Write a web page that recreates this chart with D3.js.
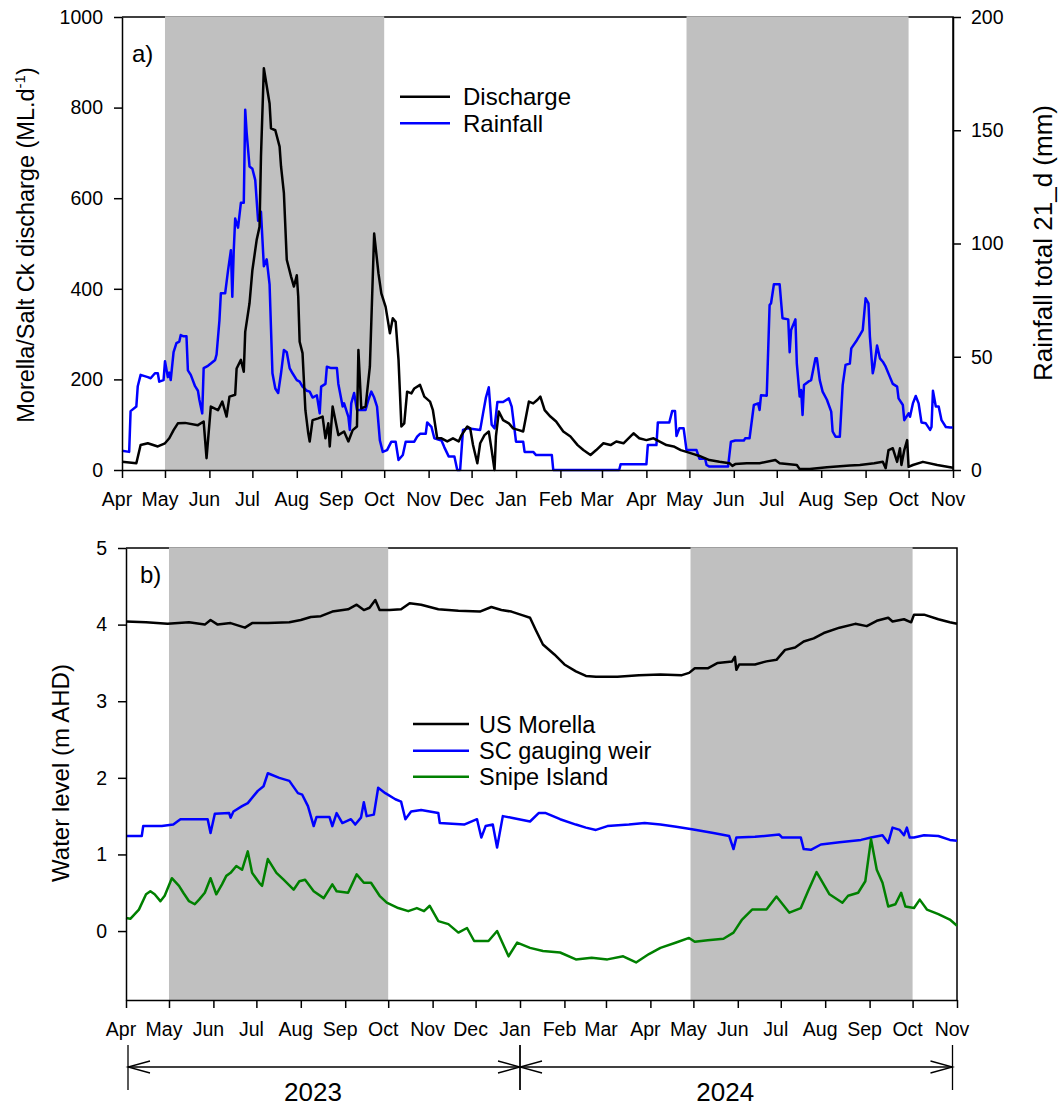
<!DOCTYPE html>
<html>
<head>
<meta charset="utf-8">
<script src="https://cdn.jsdelivr.net/npm/d3@7"></script>
<style>
  body { margin: 0; background: #fff; }
  svg text { font-family: "Liberation Sans", Arial, sans-serif; fill: #000; }
</style>
</head>
<body>
<svg id="chart"></svg>
<script>
// time span of both panels, days are counted from startDate
const startDate = '2023-04-01';
const endDate = '2024-11-01';

// shaded periods
const shadedPeriods = [['2023-05-01', '2023-10-01'], ['2024-04-29', '2024-10-01']];

// panel a) [day, ML/d]
const discharge = [[0,18],[10,15],[13,55],[18,59],[25,52],[30,59],[33,70],[36,88],[39,103],[44,104],[53,99],[57,107],[59,26],[62,140],[67,132],[70,151],[73,118],[75,162],[79,166],[80,224],[83,243],[85,217],[86,305],[89,368],[91,441],[94,508],[96,537],[97,692],[99,887],[103,809],[104,754],[107,750],[110,714],[111,670],[113,611],[115,464],[118,427],[120,405],[122,430],[123,383],[124,283],[126,258],[128,132],[130,81],[131,63],[133,110],[137,114],[140,118],[142,70],[144,103],[145,52],[147,140],[151,77],[155,85],[158,63],[161,88],[164,96],[165,265],[167,136],[170,140],[173,228],[176,522],[179,434],[181,390],[184,360],[187,302],[189,335],[191,327],[193,243],[195,96],[197,103],[199,173],[202,169],[204,180],[208,188],[211,162],[215,151],[217,132],[220,70],[223,70],[227,63],[231,70],[235,63],[237,77],[241,96],[243,92],[245,55],[248,15],[250,59],[253,77],[256,85],[258,44],[260,0],[261,74],[263,129],[266,110],[270,103],[273,92],[277,88],[280,85],[284,151],[287,147],[290,155],[292,162],[295,132],[299,118],[303,107],[308,85],[313,74],[318,55],[322,44],[327,33],[331,44],[336,59],[341,55],[345,63],[350,59],[357,81],[361,70],[366,66],[371,70],[375,63],[380,55],[385,52],[390,44],[394,40],[399,35],[403,31],[410,22],[417,18],[424,15],[426,9],[428,13],[436,15],[445,15],[456,22],[459,15],[471,11],[473,2],[480,2],[492,6],[508,10],[515,11],[525,15],[531,18],[533,4],[535,44],[538,48],[541,18],[543,48],[544,11],[546,44],[548,66],[549,7],[552,11],[559,18],[569,11],[578,6],[580,5]];

// panel a) [day, mm over 21 days]
const rainfall = [[0,8.5],[5,8],[6,26],[10,28],[11,37],[13,42],[18,41],[20,40.5],[23,42.7],[25,42.7],[26,39],[29,39.7],[30,48],[32,41],[33,43],[34,39.7],[36,52],[38,56],[40,56.7],[41,59.6],[43,59],[45,59],[46,44],[48,42],[51,37],[53,35],[54,31],[56,25],[57,45],[60,46],[62,47],[65,48.6],[66,51],[68,66],[69,78],[72,78],[74,88],[76,97],[77,76.5],[78,97],[79,111],[81,107],[83,118],[85,118],[86,159],[87,149],[89,134],[91,133],[93,128],[95,110],[97,114],[99,90],[101,93],[103,82],[105,42.7],[107,36],[109,34],[111,42.7],[113,53],[115,52],[117,45],[119,42.7],[122,39.7],[124,39],[126,36.8],[129,35],[131,34.6],[133,32],[136,33],[138,25],[139,36.8],[142,38],[143,45.6],[146,45],[150,45],[151,38],[154,28],[155,29.4],[158,23.5],[159,17.7],[160,29.4],[162,34],[164,26.5],[170,26.5],[172,31],[174,34.6],[176,32],[178,28],[180,13],[182,8],[185,8.8],[188,12.5],[191,12.5],[193,4.4],[196,6.6],[198,12.5],[204,12.5],[206,14.7],[208,16],[212,16],[213,21],[216,19],[218,14],[223,13],[225,10],[228,6],[232,6],[234,0],[236,0],[238,17.7],[241,18.4],[250,17.7],[252,25],[254,32],[256,36.5],[258,20],[260,18.4],[262,30],[266,30],[270,31.6],[272,28],[274,17.7],[275,12.5],[280,12.5],[281,8],[287,8],[289,6.6],[300,6.6],[301,0],[347,0],[348,2.5],[366,2.5],[367,11],[373,11],[374,21],[382,21],[384,26],[386,26],[387,15],[389,18.4],[392,18.4],[394,8.8],[401,8.8],[403,5],[407,5],[408,2.2],[410,1.5],[423,1.5],[425,12.5],[428,13],[434,13],[435,14],[438,14],[441,28.7],[444,29.4],[445,26.5],[446,33],[450,32.8],[452,72.8],[453,73.6],[455,82],[459,82],[461,67],[465,66.5],[466,52],[467,61.8],[470,66.5],[471,47],[473,32.4],[474,35.3],[475,24.3],[476,37.5],[479,39],[481,39.7],[484,49.3],[485,49.3],[487,39.7],[489,34.6],[492,31],[495,25.8],[496,17],[498,14.7],[501,14.7],[503,37.5],[505,46.4],[508,47],[509,53.7],[513,57.4],[515,59.6],[517,61.8],[519,75.8],[521,73.6],[522,58.9],[524,42.7],[525,45.6],[527,55],[529,49.3],[531,47.8],[533,45.6],[536,41],[538,38],[541,36.8],[542,31.6],[545,28.7],[546,22],[549,25],[550,23.5],[552,29.4],[554,32.7],[556,29.4],[558,21],[561,20.6],[564,17.7],[565,19],[566,35],[568,28],[570,28],[572,22],[575,19],[578,18.8],[580,18.8]];

// panel b) [day, m AHD]
const usMorella = [[0,4.04],[14,4.03],[29,4.01],[44,4.03],[55,4.0],[59,4.06],[64,4.0],[73,4.02],[83,3.96],[88,4.02],[99,4.02],[114,4.03],[122,4.06],[129,4.1],[136,4.11],[144,4.17],[155,4.2],[161,4.26],[166,4.19],[170,4.22],[174,4.32],[177,4.19],[184,4.19],[192,4.2],[198,4.28],[206,4.26],[218,4.2],[232,4.18],[247,4.17],[255,4.23],[262,4.19],[269,4.17],[277,4.12],[282,4.09],[286,3.93],[291,3.74],[299,3.61],[306,3.48],[314,3.39],[321,3.33],[328,3.32],[343,3.32],[358,3.34],[373,3.35],[388,3.34],[393,3.37],[397,3.43],[406,3.43],[413,3.5],[423,3.52],[425,3.58],[426,3.41],[428,3.48],[439,3.48],[447,3.52],[454,3.54],[460,3.67],[467,3.7],[473,3.78],[480,3.82],[487,3.89],[498,3.96],[509,4.01],[517,3.98],[524,4.05],[532,4.09],[535,4.04],[543,4.07],[548,4.03],[550,4.13],[557,4.13],[567,4.07],[575,4.03],[580,4.01]];

const scWeir = [[0,1.24],[11,1.24],[12,1.37],[25,1.37],[33,1.39],[38,1.46],[57,1.46],[59,1.28],[62,1.53],[72,1.54],[73,1.48],[75,1.56],[81,1.63],[85,1.67],[92,1.83],[96,1.89],[99,2.06],[107,2.0],[114,1.96],[120,1.8],[123,1.78],[127,1.63],[131,1.37],[133,1.49],[142,1.49],[144,1.37],[147,1.54],[151,1.41],[157,1.46],[160,1.39],[164,1.48],[166,1.68],[168,1.5],[173,1.52],[176,1.87],[181,1.8],[188,1.72],[192,1.69],[195,1.46],[199,1.56],[206,1.58],[218,1.54],[219,1.41],[236,1.39],[245,1.46],[248,1.22],[251,1.37],[256,1.39],[259,1.09],[263,1.5],[269,1.48],[282,1.43],[288,1.54],[293,1.54],[303,1.46],[314,1.39],[321,1.35],[328,1.32],[336,1.37],[351,1.39],[362,1.41],[373,1.39],[384,1.36],[395,1.33],[410,1.28],[421,1.24],[424,1.07],[426,1.22],[439,1.23],[456,1.26],[458,1.22],[471,1.22],[473,1.07],[478,1.06],[485,1.13],[498,1.16],[513,1.19],[520,1.22],[528,1.25],[532,1.15],[535,1.35],[540,1.32],[543,1.25],[545,1.35],[547,1.22],[550,1.22],[557,1.25],[567,1.24],[575,1.19],[580,1.18]];

const snipeIsland = [[0,0.17],[3,0.16],[9,0.28],[14,0.48],[17,0.52],[20,0.48],[24,0.39],[27,0.46],[32,0.69],[37,0.59],[40,0.5],[44,0.39],[48,0.35],[51,0.41],[55,0.5],[59,0.69],[63,0.48],[67,0.61],[70,0.72],[73,0.76],[77,0.85],[81,0.8],[85,1.04],[88,0.76],[93,0.63],[95,0.59],[99,0.94],[105,0.76],[110,0.67],[117,0.54],[121,0.65],[125,0.67],[131,0.52],[138,0.43],[144,0.61],[147,0.52],[155,0.5],[161,0.74],[166,0.63],[171,0.63],[177,0.46],[182,0.37],[190,0.3],[197,0.26],[203,0.3],[208,0.26],[212,0.33],[218,0.13],[225,0.09],[232,-0.02],[238,0.04],[243,-0.13],[253,-0.13],[259,0.0],[267,-0.33],[273,-0.15],[282,-0.22],[291,-0.26],[303,-0.28],[314,-0.37],[325,-0.35],[336,-0.37],[347,-0.33],[356,-0.41],[365,-0.3],[373,-0.22],[384,-0.15],[393,-0.09],[397,-0.14],[406,-0.12],[417,-0.1],[424,-0.02],[430,0.15],[437,0.28],[447,0.28],[454,0.45],[463,0.24],[471,0.3],[476,0.52],[482,0.77],[491,0.48],[500,0.37],[504,0.46],[511,0.5],[516,0.65],[520,1.2],[524,0.8],[528,0.63],[532,0.32],[537,0.35],[541,0.5],[544,0.32],[550,0.3],[554,0.41],[559,0.28],[567,0.22],[575,0.15],[580,0.07]];

const yearSpans = [['2023', '2023-04-01', '2024-01-01'], ['2024', '2024-01-01', '2024-11-01']];

const parse = d3.utcParse('%Y-%m-%d');
const t0 = parse(startDate);
const t1 = parse(endDate);
const toDate = d => d3.utcDay.offset(t0, d);
const monthTicks = d3.utcMonth.range(t0, d3.utcDay.offset(t1, 1));

const svg = d3.select('#chart').attr('width', 1060).attr('height', 1107);

// ---------- panel a ----------
const dimA = { left: 122, right: 953, top: 17, bottom: 470 };
const xA = d3.scaleUtc().domain([t0, t1]).range([dimA.left, dimA.right]);
const yQ = d3.scaleLinear().domain([0, 1000]).range([dimA.bottom, dimA.top]);
const yR = d3.scaleLinear().domain([0, 200]).range([dimA.bottom, dimA.top]);

// ---------- panel b ----------
const dimB = { left: 126, right: 957, top: 548, bottom: 1000 };
const xB = d3.scaleUtc().domain([t0, t1]).range([dimB.left, dimB.right]);
const yW = d3.scaleLinear().domain([-0.9, 5]).range([dimB.bottom, dimB.top]);

function frame(dim) {
  svg.append('path')
    .attr('d', `M${dim.left},${dim.top}H${dim.right}V${dim.bottom}`)
    .attr('fill', 'none').attr('stroke', '#000').attr('stroke-width', 1.5);
}

function shade(x, dim) {
  shadedPeriods.forEach(([a, b]) => {
    svg.append('rect')
      .attr('x', x(parse(a)))
      .attr('y', dim.top - 0.75)
      .attr('width', x(parse(b)) - x(parse(a)))
      .attr('height', dim.bottom - dim.top + 0.75)
      .attr('fill', '#c0c0c0');
  });
}

function series(data, x, y, color) {
  const line = d3.line().x(d => x(toDate(d[0]))).y(d => y(d[1]));
  svg.append('path')
    .datum(data)
    .attr('d', line)
    .attr('fill', 'none')
    .attr('stroke', color)
    .attr('stroke-width', 2.5)
    .attr('stroke-linejoin', 'round');
}

function styleAxis(g, fontSize) {
  g.select('.domain').attr('stroke-width', 1.5);
  g.selectAll('.tick line').attr('stroke-width', 1.5);
  g.selectAll('text').attr('font-size', fontSize).attr('font-family', null);
}

function monthAxis(x, dim) {
  const g = svg.append('g')
    .attr('transform', `translate(0,${dim.bottom})`)
    .call(d3.axisBottom(x).tickValues(monthTicks).tickFormat(d3.utcFormat('%b'))
      .tickSize(8).tickSizeOuter(0).tickPadding(14));
  styleAxis(g, 19.5);
  g.selectAll('text').attr('x', -5.5);
  return g;
}

const intFormat = d3.format('d');

// panel a drawing
frame(dimA);
shade(xA, dimA);
series(rainfall, xA, yR, '#0000ff');
series(discharge, xA, yQ, '#000000');

monthAxis(xA, dimA);
styleAxis(svg.append('g')
  .attr('transform', `translate(${dimA.left},0)`)
  .call(d3.axisLeft(yQ).tickValues([0, 200, 400, 600, 800, 1000]).tickFormat(intFormat)
    .tickSize(8).tickSizeOuter(0).tickPadding(11)), 19.5);
styleAxis(svg.append('g')
  .attr('transform', `translate(${dimA.right},0)`)
  .call(d3.axisRight(yR).tickValues([0, 50, 100, 150, 200]).tickFormat(intFormat)
    .tickSize(8).tickSizeOuter(0).tickPadding(10)), 19.5);

svg.append('text').attr('x', 132).attr('y', 62).attr('font-size', 24).text('a)');

const titleA = svg.append('text')
  .attr('transform', 'translate(34,245) rotate(-90)')
  .attr('text-anchor', 'middle')
  .attr('font-size', 23.5);
titleA.append('tspan').text('Morella/Salt Ck discharge (ML.d');
titleA.append('tspan').attr('font-size', 15).attr('dy', -9).text('-1');
titleA.append('tspan').attr('dy', 9).text(')');

svg.append('text')
  .attr('transform', 'translate(1052,243) rotate(-90)')
  .attr('text-anchor', 'middle')
  .attr('font-size', 26)
  .text('Rainfall total 21_d (mm)');

const legendA = [['Discharge', '#000000', 96.7], ['Rainfall', '#0000ff', 123.3]];
legendA.forEach(([name, color, y]) => {
  svg.append('line').attr('x1', 400).attr('x2', 450).attr('y1', y).attr('y2', y)
    .attr('stroke', color).attr('stroke-width', 2.5);
  svg.append('text').attr('x', 463).attr('y', y + 8.5).attr('font-size', 24).text(name);
});

// panel b drawing
frame(dimB);
shade(xB, dimB);
series(usMorella, xB, yW, '#000000');
series(scWeir, xB, yW, '#0000ff');
series(snipeIsland, xB, yW, '#008000');

monthAxis(xB, dimB);
styleAxis(svg.append('g')
  .attr('transform', `translate(${dimB.left},0)`)
  .call(d3.axisLeft(yW).tickValues([0, 1, 2, 3, 4, 5]).tickFormat(intFormat)
    .tickSize(8).tickSizeOuter(0).tickPadding(11)), 19.5);

svg.append('text').attr('x', 140).attr('y', 583).attr('font-size', 24).text('b)');

svg.append('text')
  .attr('transform', 'translate(69,773) rotate(-90)')
  .attr('text-anchor', 'middle')
  .attr('font-size', 24)
  .text('Water level (m AHD)');

const legendB = [['US Morella', '#000000', 724], ['SC gauging weir', '#0000ff', 750.7], ['Snipe Island', '#008000', 776.7]];
legendB.forEach(([name, color, y]) => {
  svg.append('line').attr('x1', 413).attr('x2', 469).attr('y1', y).attr('y2', y)
    .attr('stroke', color).attr('stroke-width', 2.5);
  svg.append('text').attr('x', 479).attr('y', y + 8.5).attr('font-size', 23.5).text(name);
});

// year spans below panel b
const arrowY = 1067;
yearSpans.forEach(([label, a, b], i) => {
  const xa = xB(parse(a)) + (i === 0 ? 2 : 0);
  const xb = xB(parse(b)) - (i === 1 ? 4.5 : 0);
  const g = svg.append('g').attr('stroke', '#000').attr('stroke-width', 1.3).attr('fill', 'none');
  g.append('line').attr('x1', xa).attr('x2', xb).attr('y1', arrowY).attr('y2', arrowY);
  g.append('line').attr('x1', xa).attr('x2', xa).attr('y1', 1045).attr('y2', 1090);
  g.append('line').attr('x1', xb).attr('x2', xb).attr('y1', 1045).attr('y2', 1090);
  g.append('path').attr('d', `M${xa + 22},${arrowY - 6}L${xa},${arrowY}L${xa + 22},${arrowY + 6}`);
  g.append('path').attr('d', `M${xb - 22},${arrowY - 6}L${xb},${arrowY}L${xb - 22},${arrowY + 6}`);
  svg.append('text')
    .attr('x', (xa + xb) / 2 - 11)
    .attr('y', 1101)
    .attr('text-anchor', 'middle')
    .attr('font-size', 26)
    .text(label);
});
</script>
</body>
</html>
